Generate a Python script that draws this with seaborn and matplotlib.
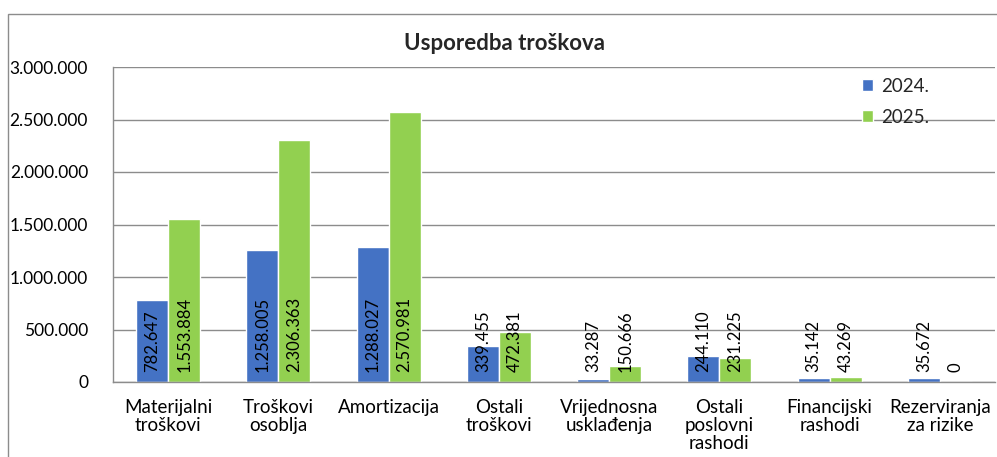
import matplotlib
matplotlib.use("Agg")
import matplotlib.pyplot as plt
import matplotlib.ticker as mticker
from matplotlib.patches import Rectangle
import seaborn as sns
import pandas as pd

categories = ["Materijalni\ntroškovi", "Troškovi\nosoblja", "Amortizacija", "Ostali\ntroškovi",
              "Vrijednosna\nusklađenja", "Ostali\nposlovni\nrashodi", "Financijski\nrashodi",
              "Rezerviranja\nza rizike"]
values_2024 = [782647, 1258005, 1288027, 339455, 33287, 244110, 35142, 35672]
values_2025 = [1553884, 2306363, 2570981, 472381, 150666, 231225, 43269, 0]
series = ["2024.", "2025."]
title = "Usporedba troškova"

df = pd.DataFrame({
    "cat": categories * 2,
    "year": [series[0]] * len(categories) + [series[1]] * len(categories),
    "val": values_2024 + values_2025,
})

sns.set_theme(style="white")
plt.rcParams["font.family"] = ["Lato", "DejaVu Sans"]

fig = plt.figure(figsize=(9.97, 4.57), dpi=100)
ax = fig.add_axes([113/997, 1-382/457, 882/997, 315/457])

sns.barplot(data=df, x="cat", y="val", hue="year", order=categories, hue_order=series,
            palette=["#4472C4", "#92D050"], width=0.58, gap=0, saturation=1,
            ax=ax, legend=True)

ax.set_ylim(0, 3000000)
ax.set_xlim(-0.5, len(categories) - 0.5)
ax.yaxis.set_major_locator(mticker.MultipleLocator(500000))
ax.yaxis.set_major_formatter(mticker.FuncFormatter(lambda v, p: f"{int(v):,}".replace(",", ".")))
ax.grid(axis="y", color="#8c8c8c", linewidth=1)
ax.set_axisbelow(True)
for s in ["top", "right"]:
    ax.spines[s].set_visible(False)
for s in ["left", "bottom"]:
    ax.spines[s].set_color("#8c8c8c")
    ax.spines[s].set_linewidth(1)
ax.set_xlabel("")
ax.set_ylabel("")
ax.tick_params(axis="y", labelsize=12.5, pad=18, length=0, colors="black")
ax.tick_params(axis="x", labelsize=13.5, pad=12, length=0, colors="black")
for lbl in ax.get_xticklabels():
    lbl.set_linespacing(1.1)

for cont in ax.containers:
    for p in cont.patches:
        h = p.get_height()
        ax.annotate(f"{int(round(h)):,}".replace(",", "."),
                    (p.get_x() + p.get_width() / 2, 0),
                    xytext=(0, 7), textcoords="offset points",
                    rotation=90, ha="center", va="bottom", fontsize=12, color="black")

leg = ax.legend(loc="upper left", bbox_to_anchor=(0.83, 1.02), frameon=False,
                fontsize=13.5, handlelength=0.6, handleheight=0.6, handletextpad=0.4,
                labelspacing=0.75)

fig.text(505/997, 1-44/457, title, ha="center", va="center", fontsize=16, fontweight="bold")

fig.patches.append(Rectangle((8/997, -0.1), 1.2, 1.1 - 14/457, transform=fig.transFigure,
                             fill=False, edgecolor="#8c8c8c", linewidth=1))

fig.savefig("out.png", dpi=100)
